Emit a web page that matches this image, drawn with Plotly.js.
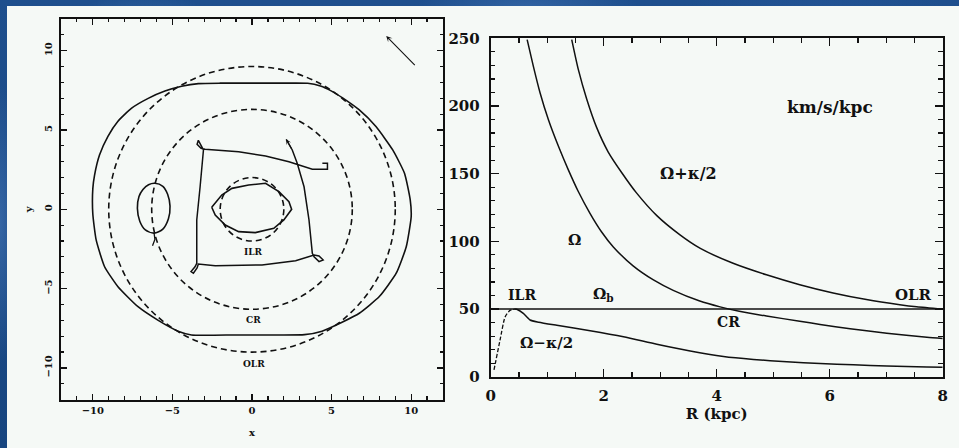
<!DOCTYPE html>
<html>
<head>
<meta charset="utf-8">
<script src="https://cdn.plot.ly/plotly-3.0.1.min.js"></script>
<style>
html,body{margin:0;padding:0;width:959px;height:448px;overflow:hidden;}
body{
  background-color:#1c4a86;
  background-image:
    radial-gradient(ellipse 120px 60px at 15% 8%, rgba(90,140,200,0.45), transparent 70%),
    radial-gradient(ellipse 160px 40px at 55% 2%, rgba(70,120,185,0.5), transparent 70%),
    radial-gradient(ellipse 200px 50px at 85% 4%, rgba(40,90,160,0.5), transparent 70%),
    radial-gradient(ellipse 30px 200px at 0% 50%, rgba(80,130,195,0.5), transparent 70%),
    linear-gradient(180deg,#1e4f8d,#17457f);
}
#panel{position:absolute;left:7px;top:6px;width:952px;height:442px;background:#f5f9f6;}
#chart{width:952px;height:442px;}
</style>
</head>
<body>
<div id="panel"><div id="chart"></div></div>
<script>
// ---------- Right panel: frequency curves (km/s/kpc vs R in kpc) ----------
const R_omega = [0.645,0.754,0.873,1.02,1.197,1.374,1.55,1.757,1.96,2.17,2.52,2.88,3.23,3.70,4.06,4.40,4.88,5.47,5.83,6.36,7.01,7.72,8.0];
const omega   = [249,229.5,209.8,190,170.4,152.8,136.8,120.7,107.1,95.9,81.9,71.5,63.8,55.9,51.6,48.3,44.8,41,38.6,35.5,32.1,29.1,28.3];

const R_opk = [1.434,1.55,1.70,1.876,2.08,2.32,2.58,2.94,3.35,3.71,4.29,4.88,5.47,6.06,6.65,7.24,7.54,8.0];
const omegaPlusK = [249,227,205,184,166,150.7,135.8,119,104.8,94.8,83.8,75.3,68,61.9,57,53.2,51.6,49.8];

const R_omk_inner = [0.058,0.165,0.253,0.34,0.42];
const omegaMinusK_inner = [5,27,44,49,50];
const R_omk = [0.42,0.46,0.577,0.696,0.85,1.17,1.76,2.35,2.94,3.53,4.12,4.65,5.24,5.83,6.42,7.01,7.72,8.0];
const omegaMinusK = [50,49.8,46.8,41.9,40.3,38,34,29.5,24,19,15,12.8,11,9.8,8.8,7.9,7.2,7];

const R_bar = [0,8];
const omegaBar = [50,50];

// ---------- Left panel: orbits in the bar frame (x, y) ----------
const resonanceRadii = [2.0, 6.3, 9.0];          // ILR, CR, OLR dashed circles
const resonanceNames = ['ILR','CR','OLR'];
const resonanceLabelY = [-2.7,-7.0,-9.75];

const outerX = [-10.0,-9.89,-9.58,-9.05,-8.42,-7.58,-6.52,-5.47,-4.42,-3.37,-2.0,0.0,2.0,3.5,4.3,5.0,5.69,6.74,7.8,8.84,9.58,9.94,10.0,9.69,9.06,8.0,6.74,5.69,4.4,3.3,1.5,-1.0,-3.8,-4.6,-5.89,-7.16,-8.42,-9.26,-9.79,-10.0,-10.0];
const outerY = [1.3,2.16,3.42,4.6,5.55,6.36,6.99,7.45,7.75,7.92,7.95,7.95,7.95,7.94,7.77,7.45,7.02,6.26,5.2,3.74,2.27,0.59,-0.47,-2.36,-4.03,-5.5,-6.55,-7.1,-7.68,-7.9,-7.92,-7.92,-7.92,-7.7,-7.0,-6.14,-4.88,-3.62,-1.93,-0.3,1.3];

const lensX = [-2.53,-1.9,-1.26,-0.21,0.85,1.69,2.32,2.49,2.0,1.37,0.21,-0.84,-1.68,-2.31,-2.53];
const lensY = [0.13,0.9,1.32,1.53,1.64,1.11,0.48,0.0,-0.67,-1.2,-1.47,-1.41,-0.99,-0.36,0.13];

const quadX = [4.42,4.74,4.74,3.79,2.32,0.85,-0.84,-2.95,-3.2,-3.45,-3.37,-3.25,-3.05,-3.26,-3.47,-3.47,-3.58,-3.83,-3.68,-3.45,-3.37,-2.31,0.63,2.74,3.9,4.21,4.47,4.21,3.9,3.79,3.58,3.27,2.84,2.53,2.15];
const quadY = [2.9,2.9,2.52,2.52,3.0,3.36,3.63,3.78,3.85,4.1,4.35,4.1,3.74,1.42,-0.67,-3.4,-3.62,-3.93,-4.03,-3.7,-3.45,-3.55,-3.51,-3.24,-2.88,-2.94,-3.19,-3.3,-3.0,-2.77,-0.67,1.42,2.9,3.74,4.41];

const bananaX = [-6.1,-5.6,-5.3,-5.15,-5.25,-5.6,-6.15,-6.7,-7.05,-7.2,-7.1,-6.85,-6.5,-6.1];
const bananaY = [1.64,1.45,0.95,0.2,-0.6,-1.25,-1.5,-1.3,-0.75,0.06,0.8,1.25,1.55,1.64];
const tailX = [-6.15,-6.1,-6.25];
const tailY = [-1.5,-1.9,-2.3];

const font = 'DejaVu Serif, Liberation Serif, serif';
const K = '#111111';

const line = (w, d, s, sm) => ({color: K, width: w, dash: d || 'solid', shape: s || 'linear', smoothing: sm || 0.6});

const traces = [
  // left panel
  {x: outerX, y: outerY, xaxis:'x', yaxis:'y', mode:'lines', line: line(1.6, null, 'spline', 0.5)},
  {x: lensX, y: lensY, xaxis:'x', yaxis:'y', mode:'lines', line: line(1.6)},
  {x: quadX, y: quadY, xaxis:'x', yaxis:'y', mode:'lines', line: line(1.5)},
  {x: bananaX, y: bananaY, xaxis:'x', yaxis:'y', mode:'lines', line: line(1.6, null, 'spline', 0.8)},
  {x: tailX, y: tailY, xaxis:'x', yaxis:'y', mode:'lines', line: line(1.3)},
  // right panel
  {x: R_omega, y: omega, xaxis:'x2', yaxis:'y2', mode:'lines', line: line(1.5, null, 'spline', 0.6)},
  {x: R_opk, y: omegaPlusK, xaxis:'x2', yaxis:'y2', mode:'lines', line: line(1.5, null, 'spline', 0.6)},
  {x: R_omk_inner, y: omegaMinusK_inner, xaxis:'x2', yaxis:'y2', mode:'lines', line: line(1.3,'4px,2px','spline', 0.6)},
  {x: R_omk, y: omegaMinusK, xaxis:'x2', yaxis:'y2', mode:'lines', line: line(1.5, null, 'spline', 0.6)},
  {x: R_bar, y: omegaBar, xaxis:'x2', yaxis:'y2', mode:'lines', line: line(1.6)}
];

const shapes = resonanceRadii.map(r => ({
  type:'circle', xref:'x', yref:'y', x0:-r, y0:-r, x1:r, y1:r,
  line:{color:K, width:1.6, dash:'6px,4px'}
}));

const annotations = [];
resonanceNames.forEach((n,i) => annotations.push({
  xref:'x', yref:'y', x:0.1, y:resonanceLabelY[i], text:'<b>'+n+'</b>', showarrow:false,
  font:{family:font, size:9, color:K}
}));
// direction arrow (upper right) and arrowhead on the 4:1 orbit
annotations.push({xref:'x', yref:'y', x:8.43, y:10.92, ax:10.32, ay:8.99, axref:'x', ayref:'y',
  text:'', showarrow:true, arrowhead:3, arrowsize:0.9, arrowwidth:1.1, arrowcolor:K});
annotations.push({xref:'x', yref:'y', x:quadX[quadX.length-1], y:quadY[quadY.length-1],
  ax:quadX[quadX.length-2], ay:quadY[quadY.length-2], axref:'x', ayref:'y',
  text:'', showarrow:true, arrowhead:3, arrowsize:0.8, arrowwidth:1.1, arrowcolor:K});

const rl = (x,y,t,s) => ({xref:'x2', yref:'y2', x:x, y:y, text:t, showarrow:false,
  font:{family:font, size:s || 14, color:K, weight:'bold'}});
annotations.push(rl(6.0,199,'km/s/kpc',17));
annotations.push(rl(3.5,150,'Ω+κ/2',16));
annotations.push(rl(1.49,101,'Ω',15));
annotations.push(rl(0.55,60.5,'ILR',14));
annotations.push(rl(1.99,60.5,'Ω<sub>b</sub>',15));
annotations.push(rl(7.48,60.5,'OLR',15));
annotations.push(rl(4.2,40.6,'CR',14));
annotations.push(rl(0.99,24.7,'Ω−κ/2',15));

const axBase = {showgrid:false, zeroline:false, showline:true, linecolor:K, linewidth:2,
  mirror:'ticks', ticks:'inside', tickcolor:K, tickwidth:1.3};

const layout = {
  width:952, height:442, margin:{l:0,r:0,t:0,b:0},
  paper_bgcolor:'#f5f9f6', plot_bgcolor:'#f5f9f6', showlegend:false,
  xaxis: Object.assign({}, axBase, {domain:[0.0567,0.458], anchor:'y', range:[-12,12],
    tickvals:[-10,-5,0,5,10], ticktext:['−10','−5','0','5','10'], ticklen:6,
    minor:{ticks:'inside', dtick:1, ticklen:3.5, tickcolor:K, tickwidth:1.2},
    tickfont:{family:font, size:10, color:K, weight:'bold'},
    title:{text:'x', font:{family:font, size:10, color:K, weight:'bold'}, standoff:14}}),
  yaxis: Object.assign({}, axBase, {domain:[0.1093,0.9708], anchor:'x', range:[-12,12],
    tickvals:[-10,-5,0,5,10], ticktext:['−10','−5','0','5','10'], ticklen:6, tickangle:-90,
    minor:{ticks:'inside', dtick:1, ticklen:3.5, tickcolor:K, tickwidth:1.2},
    tickfont:{family:font, size:10, color:K, weight:'bold'}, ticklabelstandoff:3,
    title:{text:'y', font:{family:font, size:10, color:K, weight:'bold'}, standoff:8}}),
  xaxis2: Object.assign({}, axBase, {domain:[0.5081,0.9829], anchor:'y2', range:[0,8],
    tickvals:[0,2,4,6,8], ticklen:8,
    minor:{ticks:'inside', dtick:0.5, ticklen:4.5, tickcolor:K, tickwidth:1.2},
    tickfont:{family:font, size:15, color:K, weight:'bold'}, ticklabelstandoff:4,
    title:{text:'R (kpc)', font:{family:font, size:15, color:K, weight:'bold'}, standoff:2}}),
  yaxis2: Object.assign({}, axBase, {domain:[0.1613,0.9269], anchor:'x2', range:[0,250],
    tickvals:[0,50,100,150,200,250], ticklen:8,
    minor:{ticks:'inside', dtick:10, ticklen:4.5, tickcolor:K, tickwidth:1.2},
    tickfont:{family:font, size:15, color:K, weight:'bold'}, ticklabelstandoff:6}),
  shapes: shapes,
  annotations: annotations
};

Plotly.newPlot('chart', traces, layout, {displayModeBar:false, staticPlot:true});
</script>
</body>
</html>
